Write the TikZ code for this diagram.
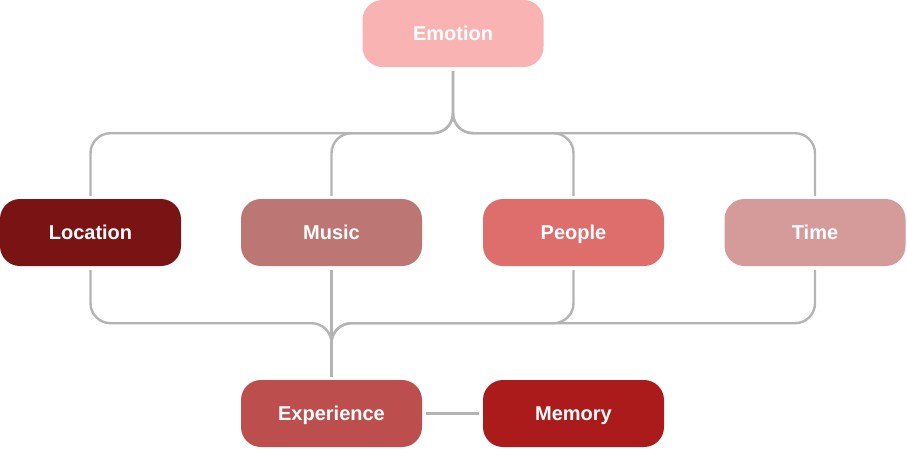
\documentclass[tikz,border=0pt]{standalone}
\usepackage{fontspec}
\setmainfont{Liberation Sans}
\usepackage{tikz}
\usetikzlibrary{calc}
\definecolor{linkgray}{HTML}{B4B4B4}
\definecolor{emotioncol}{HTML}{F8B3B2}
\definecolor{locationcol}{HTML}{7A1414}
\definecolor{musiccol}{HTML}{BC7673}
\definecolor{peoplecol}{HTML}{DE6E6B}
\definecolor{timecol}{HTML}{D59B9A}
\definecolor{experiencecol}{HTML}{BC4F4D}
\definecolor{memorycol}{HTML}{AB1B1B}
\tikzset{
  tagbox/.style={draw=none, rounded corners=20pt, minimum width=181pt, minimum height=67pt,
    inner sep=0pt, text height=14.3pt, text depth=0pt, text=white,
    font=\fontsize{20}{22}\selectfont\bfseries},
  link/.style={draw=linkgray, line width=2.4pt, rounded corners=20pt}
}
\newcommand{\tagnode}[5]{\node[tagbox, fill=#5] (#1) at ( #2 , #3 ) {#4};}

\begin{document}
\begin{tikzpicture}[x=1pt,y=-1pt]
        \useasboundingbox (0,0) rectangle (907,448);
        % top
        \tagnode{emotion}{453}{33.5}{Emotion}{emotioncol}
        % middle row
        \tagnode{location}{90.5}{232.5}{Location}{locationcol}
        \tagnode{music}{331.5}{232.5}{Music}{musiccol}
        \tagnode{people}{573.5}{232.5}{People}{peoplecol}
        \tagnode{time}{815}{232.5}{Time}{timecol}
        % bottom row
        \tagnode{experience}{331.5}{413.5}{Experience}{experiencecol}
        \tagnode{memory}{573.5}{413.5}{Memory}{memorycol}

        % fork from emotion
        \foreach \n in {location,music,people,time}
            \draw[link] ([yshift=-4pt]emotion.south) -- ++(0,62) -| ([yshift=3pt]\n.north);

        % join into experience
        \foreach \n in {location,people,time}
            \draw[link] ([yshift=-4pt]\n.south) -- ++(0,53) -| ([yshift=3pt]experience.north);
        \draw[link] ([yshift=-4pt]music.south) -- ([yshift=3pt]experience.north);

        \draw[link] ([xshift=4pt]experience.east) -- ([xshift=-4pt]memory.west);
    \end{tikzpicture}
\end{document}
